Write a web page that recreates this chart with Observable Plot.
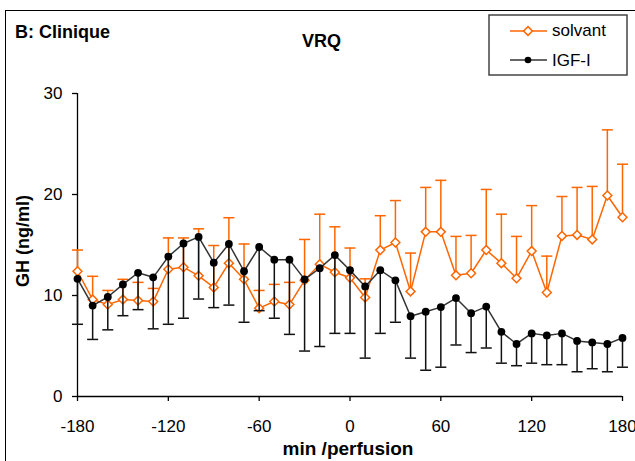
<!DOCTYPE html>
<html>
<head>
<meta charset="utf-8">
<script src="https://cdn.jsdelivr.net/npm/d3@7"></script>
<script src="https://cdn.jsdelivr.net/npm/@observablehq/plot@0.6"></script>
<style>
html, body { margin: 0; padding: 0; background: #fff; overflow: hidden; }
#wrap { position: relative; width: 635px; height: 461px; font-family: "Liberation Sans", Arial, sans-serif; overflow: hidden; }
#frame { position: absolute; left: 5px; top: 10px; width: 700px; height: 500px; border: 1.6px solid #000; box-sizing: border-box; }
#chart { position: absolute; left: 0; top: 0; }
.t { position: absolute; white-space: nowrap; font-weight: bold; color: #000; line-height: 1; }
#legend { position: absolute; left: 488px; top: 14px; }
</style>
</head>
<body>
<div id="wrap">
  <div id="frame"></div>
  <div id="chart"></div>
  <div class="t" style="left:15px; top:23px; font-size:18px;">B: Clinique</div>
  <div class="t" style="left:302px; top:31.5px; font-size:18px;">VRQ</div>
  <div class="t" style="left:248px; width:200px; text-align:center; top:439px; font-size:19px;">min /perfusion</div>
  <div class="t" style="left:-77px; width:200px; text-align:center; top:232px; font-size:18px; transform: rotate(-90deg); transform-origin: 100px 9px;">GH (ng/ml)</div>
  <svg id="legend" width="142" height="64" style="font-family:'Liberation Sans', Arial, sans-serif;">
    <rect x="1" y="1" width="138" height="60" fill="#fff" stroke="#444" stroke-width="1.5"></rect>
    <line x1="22" x2="59" y1="17" y2="17" stroke="#FF6600" stroke-width="1.5"></line>
    <path d="M40,12.6L44.4,17L40,21.4L35.6,17Z" fill="#fff" stroke="#FF6600" stroke-width="1.5"></path>
    <text x="64" y="22" font-size="17">solvant</text>
    <line x1="22" x2="59" y1="46" y2="46" stroke="#333" stroke-width="1.5"></line>
    <circle cx="40" cy="46" r="3.3" fill="#000"></circle>
    <text x="64" y="51.5" font-size="17">IGF-I</text>
  </svg>
</div>
<script>
// Data (GH, ng/ml)
const times = [-180, -170, -160, -150, -140, -130, -120, -110, -100, -90, -80, -70, -60, -50, -40, -30, -20, -10,
  0, 10, 20, 30, 40, 50, 60, 70, 80, 90, 100, 110, 120, 130, 140, 150, 160, 170, 180];

const solvantMean = [12.4, 9.6, 9.1, 9.6, 9.5, 9.4, 12.6, 12.8, 11.95, 10.8, 13.2, 11.6, 8.75, 9.4, 9.1, 11.5, 13.1, 12.3,
  11.75, 9.8, 14.5, 15.25, 10.4, 16.3, 16.3, 12.0, 12.2, 14.5, 13.2, 11.7, 14.4, 10.3, 15.9, 16.0, 15.55, 19.9, 17.75];
const solvantUpper = [14.5, 11.9, 10.5, 11.6, 11.3, 10.7, 15.7, 15.7, 16.6, 14.95, 17.7, 15.1, 10.5, 11.1, 11.3, 15.55, 18.05, 16.8,
  14.7, 11.65, 17.9, 19.4, 14.2, 20.7, 21.4, 15.85, 15.95, 20.5, 18.05, 15.85, 18.9, 13.9, 19.8, 20.7, 20.8, 26.4, 23.0];

const igfMean = [11.65, 9.0, 9.85, 11.1, 12.25, 11.8, 13.85, 15.15, 15.8, 13.25, 15.1, 12.4, 14.8, 13.55, 13.55, 11.6, 12.7, 14.0,
  12.5, 10.9, 12.5, 11.5, 7.95, 8.4, 8.85, 9.75, 8.25, 8.9, 6.4, 5.2, 6.25, 6.05, 6.25, 5.5, 5.35, 5.2, 5.8];
const igfLower = [7.15, 5.65, 6.6, 8.0, 8.6, 6.7, 7.15, 7.75, 9.65, 8.8, 9.05, 7.35, 8.5, 7.75, 6.15, 4.5, 4.95, 6.25,
  6.25, 3.8, 6.25, 7.35, 3.8, 2.6, 2.9, 5.1, 4.35, 4.8, 3.3, 3.05, 3.3, 3.15, 3.15, 2.45, 2.75, 2.45, 2.9];

const xTicks = [-180, -120, -60, 0, 60, 120, 180];
const yTicks = [0, 10, 20, 30];

const solvant = times.map((t, i) => ({t, mean: solvantMean[i], bar: solvantUpper[i]}));
const igf = times.map((t, i) => ({t, mean: igfMean[i], bar: igfLower[i]}));

const ORANGE = "#FF6600";
const capSymbol = {
  draw(ctx, size) {
    const r = Math.sqrt(size / Math.PI);
    ctx.moveTo(-r, 0);
    ctx.lineTo(r, 0);
  }
};

const chart = Plot.plot({
  width: 635,
  height: 461,
  marginLeft: 77,
  marginRight: 13,
  marginTop: 93,
  marginBottom: 65,
  x: {domain: [-180, 180]},
  y: {domain: [0, 30]},
  style: {fontFamily: "'Liberation Sans', Arial, sans-serif", fontSize: "17px", color: "#000", background: "transparent", overflow: "visible"},
  marks: [
    Plot.axisX({ticks: xTicks, tickSize: 5, tickPadding: 18, tickFormat: d => String(d), label: null, stroke: "#000", strokeWidth: 1.3}),
    Plot.axisY({ticks: yTicks, tickSize: 5, tickPadding: 10, tickFormat: d => String(d), label: null, stroke: "#000", strokeWidth: 1.3}),
    Plot.ruleY([0], {stroke: "#000", strokeWidth: 1.3}),
    Plot.ruleX([-180], {stroke: "#000", strokeWidth: 1.3}),
    // solvant
    Plot.ruleX(solvant, {x: "t", y1: "mean", y2: "bar", stroke: ORANGE, strokeWidth: 1.5}),
    Plot.dot(solvant, {x: "t", y: "bar", symbol: capSymbol, r: 5.5, fill: "none", stroke: ORANGE, strokeWidth: 1.5}),
    Plot.line(solvant, {x: "t", y: "mean", stroke: ORANGE, strokeWidth: 1.5}),
    Plot.dot(solvant, {x: "t", y: "mean", symbol: "diamond2", r: 4, fill: "#fff", stroke: ORANGE, strokeWidth: 1.5}),
    // IGF-I
    Plot.ruleX(igf, {x: "t", y1: "mean", y2: "bar", stroke: "#111", strokeWidth: 1.5}),
    Plot.dot(igf, {x: "t", y: "bar", symbol: capSymbol, r: 5.5, fill: "none", stroke: "#111", strokeWidth: 1.5}),
    Plot.line(igf, {x: "t", y: "mean", stroke: "#333", strokeWidth: 1.5}),
    Plot.dot(igf, {x: "t", y: "mean", r: 3.9, fill: "#000", stroke: "none"})
  ]
});
document.getElementById("chart").appendChild(chart);
</script>
</body>
</html>
